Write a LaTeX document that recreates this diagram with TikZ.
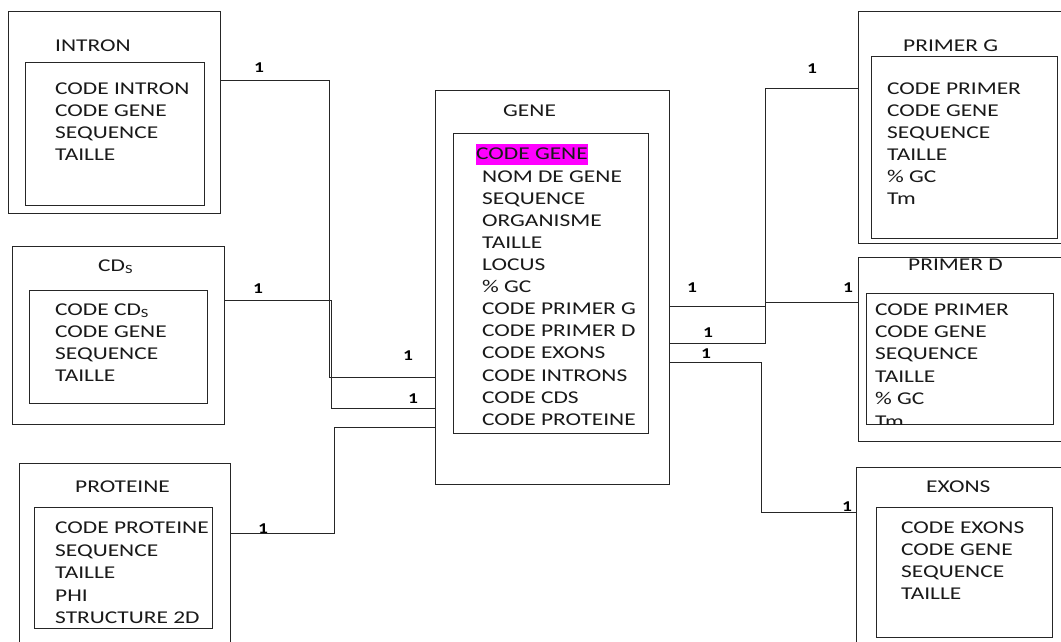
\documentclass[tikz,border=0pt]{standalone}
\usepackage{fontspec}
\setmainfont{Carlito}[FakeStretch=1.3]
\definecolor{keypink}{RGB}{255,0,255}
\tikzset{
  box/.style={draw=black!85, line width=0.9pt, anchor=north west, inner sep=0pt},
  item/.style={anchor=base west, inner sep=0pt, font=\fontsize{18}{22}\selectfont, text=black!90},
  card/.style={anchor=base, inner sep=0pt, font=\bfseries\fontsize{15}{18}\selectfont},
  link/.style={draw=black!85, line width=0.8pt}
}
\begin{document}
\begin{tikzpicture}[x=1pt,y=-1pt]
  \clip (0,0) rectangle (1061,641);
  \fill[white] (0,0) rectangle (1061,641);

  \node[box, minimum width=212pt, minimum height=202pt] (intron) at (8,11) {};
  \node[box, minimum width=179pt, minimum height=143pt] (intronin) at (25,62) {};
  \node[item] (introntitle) at (55,51) {INTRON};
  \foreach \t [count=\i] in {CODE INTRON, CODE GENE, SEQUENCE, TAILLE}
    \node[item] (intron\i) at (55,72+22*\i) {\t};

  \node[box, minimum width=212pt, minimum height=178pt] (cds) at (12,246) {};
  \node[box, minimum width=178pt, minimum height=113pt] (cdsin) at (29,290) {};
  \node[item] (cdstitle) at (98,271) {CD\textsubscript{S}};
  \foreach \t [count=\i] in {{CODE CD\textsubscript{S}}, CODE GENE, SEQUENCE, TAILLE}
    \node[item] (cds\i) at (55,293+22*\i) {\t};

  \node[box, minimum width=211pt, minimum height=190pt] (prot) at (19,463) {};
  \node[box, minimum width=178pt, minimum height=121pt] (protin) at (34,507) {};
  \node[item] (prottitle) at (75,492) {PROTEINE};
  \foreach \t [count=\i] in {CODE PROTEINE, SEQUENCE, TAILLE, PHI, STRUCTURE 2D}
    \node[item] (prot\i) at (55,511+22.5*\i) {\t};

  \node[box, minimum width=234pt, minimum height=394pt] (gene) at (435,90) {};
  \node[box, minimum width=195pt, minimum height=300pt] (genein) at (453,133) {};
  \node[item] (genetitle) at (503,116) {GENE};
  \node[item, fill=keypink, text height=15pt, text depth=6pt] (genekey) at (476,159) {CODE GENE};
  \foreach \t [count=\i] in {NOM DE GENE, SEQUENCE, ORGANISME, TAILLE, LOCUS, \% GC,
      CODE PRIMER G, CODE PRIMER D, CODE EXONS, CODE INTRONS, CODE CDS, CODE PROTEINE}
    \node[item] (gene\i) at (482,160+22.1*\i) {\t};

  \node[box, minimum width=212pt, minimum height=232pt] (primg) at (858,11) {};
  \node[box, minimum width=186pt, minimum height=182pt] (primgin) at (871,56) {};
  \node[item] (primgtitle) at (903,51) {PRIMER G};
  \foreach \t [count=\i] in {CODE PRIMER, CODE GENE, SEQUENCE, TAILLE, \% GC, Tm}
    \node[item] (primg\i) at (887,72+22*\i) {\t};

  \node[box, minimum width=212pt, minimum height=184pt] (primd) at (858,257) {};
  \node[box, minimum width=187pt, minimum height=131pt] (primdin) at (866,293) {};
  \node[item] (primdtitle) at (908,270) {PRIMER D};
  \begin{scope}
    \clip (866,293) rectangle (1053,424);
    \foreach \t [count=\i] in {CODE PRIMER, CODE GENE, SEQUENCE, TAILLE, \% GC, Tm}
      \node[item] (primd\i) at (875,292.6+22.4*\i) {\t};
  \end{scope}

  \node[box, minimum width=212pt, minimum height=190pt] (exons) at (856,467) {};
  \node[box, minimum width=176pt, minimum height=130pt] (exonsin) at (876,507) {};
  \node[item] (exonstitle) at (926,492) {EXONS};
  \foreach \t [count=\i] in {CODE EXONS, CODE GENE, SEQUENCE, TAILLE}
    \node[item] (exons\i) at (901,511+22*\i) {\t};

  \coordinate (a1) at (329,377);
  \coordinate (a2) at (331,408);
  \coordinate (a3) at (334,427);
  \coordinate (b1) at (765,343);
  \coordinate (b2) at (765,306);
  \coordinate (b3) at (761,362);
  \draw[link] ([yshift=-69pt]intron.north east) -| (a1) -- (a1 -| gene.west);
  \draw[link] ([yshift=-54pt]cds.north east) -| (a2) -- (a2 -| gene.west);
  \draw[link] ([yshift=-70pt]prot.north east) -| (a3) -- (a3 -| gene.west);
  \draw[link] ([yshift=-77pt]primg.north west) -| (b1) -- (b1 -| gene.east);
  \draw[link] ([yshift=-45pt]primd.north west) -| (b2) -- (b2 -| gene.east);
  \draw[link] ([yshift=-45pt]exons.north west) -| (b3) -- (b3 -| gene.east);

  \node[card] (c1) at (259,72) {1};
  \node[card] (c2) at (258,293) {1};
  \node[card] (c3) at (408,360) {1};
  \node[card] (c4) at (413,403) {1};
  \node[card] (c5) at (263,533) {1};
  \node[card] (c6) at (812,73) {1};
  \node[card] (c7) at (692,292) {1};
  \node[card] (c8) at (848,292) {1};
  \node[card] (c9) at (708,337) {1};
  \node[card] (c10) at (706,358) {1};
  \node[card] (c11) at (847,511) {1};
\end{tikzpicture}
\end{document}
